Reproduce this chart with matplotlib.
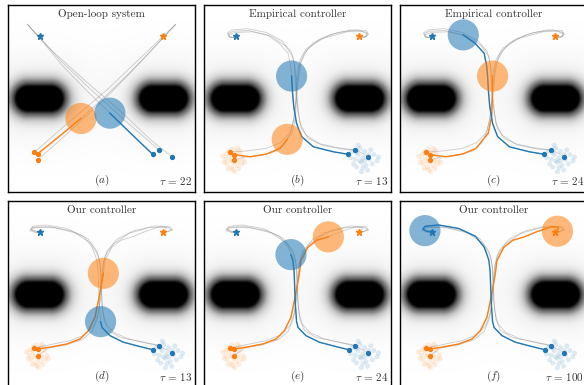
import numpy as np
import matplotlib.pyplot as plt
from matplotlib.patches import Circle

plt.rcParams['mathtext.fontset'] = 'cm'

BLUE = '#1f77b4'
ORANGE = '#ff7f0e'

# panels
titles = ['Open-loop system', 'Empirical controller', 'Empirical controller',
          'Our controller', 'Our controller', 'Our controller']
letters = ['a', 'b', 'c', 'd', 'e', 'f']
taus = [22, 13, 24, 13, 24, 100]
controllers = ['open', 'emp', 'emp', 'ours', 'ours', 'ours']

# obstacles (centres of the two dark blobs)
obstacle_x = [-2.0, 2.0]
obstacle_y = [0.0, 0.0]

# targets
target_blue = (-1.98, 2.0)
target_orange = (1.97, 2.0)

# agent positions (circles) in each panel
circle_blue = [(0.27, -0.47), (-0.19, 0.72), (-0.97, 2.04),
               (-0.03, -0.87), (-0.21, 1.28), (-2.20, 2.05)]
circle_orange = [(-0.66, -0.64), (-0.33, -1.31), (-0.03, 0.72),
                 (0.06, 0.68), (0.99, 1.85), (2.05, 2.03)]

# how many points of the highlighted path are coloured in each panel
cut_blue = [3, 8, 12, 6, 11, 19]
cut_orange = [3, 5, 9, 9, 13, 18]

# initial samples
cloud_orange = [(-2.30, -1.95), (-2.25, -2.10), (-2.18, -1.85), (-2.12, -2.20), (-2.05, -2.05),
                (-2.00, -1.90), (-1.95, -2.15), (-1.90, -2.00), (-1.85, -1.80), (-1.80, -2.10),
                (-2.20, -1.70), (-2.10, -1.62), (-1.98, -1.72), (-2.35, -2.05), (-2.08, -2.28),
                (-1.88, -2.25), (-1.75, -1.95), (-2.22, -2.25), (-2.15, -1.98), (-1.92, -1.60),
                (-2.40, -1.85), (-1.70, -2.05), (-2.02, -2.35), (-2.28, -1.78), (-1.85, -1.68)]
cloud_blue = [(1.75, -1.70), (1.85, -1.95), (1.95, -1.80), (2.05, -2.05), (2.10, -1.90),
              (2.20, -2.15), (2.15, -1.70), (2.00, -1.60), (1.90, -2.20), (2.30, -1.95),
              (2.45, -1.80), (2.55, -2.00), (1.80, -2.10), (2.25, -2.30), (2.05, -2.35),
              (2.35, -1.65), (1.70, -1.90), (2.00, -2.00), (2.40, -2.10), (1.95, -1.50),
              (2.15, -2.00), (2.60, -1.88), (1.88, -1.72), (2.28, -1.80), (2.10, -2.22)]

# open-loop trajectories
open_blue_0 = [(1.64, -1.79), (0.95, -1.13), (0.27, -0.47), (-0.50, 0.28),
               (-1.25, 1.05), (-1.95, 1.90), (-2.38, 2.38)]
open_blue_1 = [(1.85, -1.65), (0.80, -0.75), (-0.30, 0.25), (-1.30, 1.20),
               (-2.00, 1.98), (-2.38, 2.38)]
open_blue_2 = [(2.27, -1.87), (2.02, -1.68), (1.55, -1.30), (0.60, -0.40),
               (-0.50, 0.55), (-1.50, 1.45), (-2.00, 1.95), (-2.36, 2.36)]
open_orange_0 = [(-2.05, -1.78), (-1.35, -1.21), (-0.66, -0.64), (0.10, 0.05),
                 (0.90, 0.82), (1.70, 1.65), (2.38, 2.38)]
open_orange_1 = [(-2.15, -1.72), (-1.00, -0.72), (0.20, 0.30), (1.30, 1.35),
                 (2.00, 2.02), (2.38, 2.38)]
open_orange_2 = [(-2.05, -1.97), (-0.90, -0.95), (0.30, 0.18), (1.30, 1.22),
                 (1.95, 1.92), (2.36, 2.36)]

# empirical controller trajectories
emp_blue_0 = [(1.63, -1.79), (1.15, -1.71), (0.51, -1.55), (0.13, -1.22), (-0.03, -0.80),
              (-0.12, -0.26), (-0.16, 0.20), (-0.19, 0.72), (-0.22, 1.05), (-0.30, 1.45),
              (-0.59, 1.77), (-0.97, 2.04), (-1.56, 2.18), (-2.05, 2.16), (-2.22, 2.08),
              (-2.18, 1.97), (-2.05, 1.96), (-1.98, 1.98)]
emp_blue_1 = [(1.85, -1.65), (1.30, -1.58), (0.70, -1.45), (0.28, -1.18), (0.08, -0.80),
              (0.00, -0.30), (-0.05, 0.20), (-0.08, 0.70), (-0.10, 1.10), (-0.20, 1.50),
              (-0.50, 1.85), (-1.00, 2.12), (-1.60, 2.24), (-2.10, 2.20), (-2.25, 2.10),
              (-2.20, 1.98), (-2.05, 1.96), (-1.98, 1.98)]
emp_blue_2 = [(2.27, -1.87), (1.90, -1.66), (1.40, -1.62), (0.80, -1.50), (0.35, -1.28),
              (0.12, -0.95), (0.03, -0.45), (-0.02, 0.10), (-0.05, 0.65), (-0.08, 1.00),
              (-0.15, 1.35), (-0.40, 1.70), (-0.85, 2.00), (-1.45, 2.14), (-2.00, 2.12),
              (-2.20, 2.05), (-2.15, 1.96), (-1.98, 1.98)]
emp_orange_0 = [(-2.05, -1.80), (-1.52, -1.87), (-0.99, -1.78), (-0.56, -1.60), (-0.33, -1.31),
                (-0.17, -1.12), (-0.06, -0.58), (-0.04, -0.05), (-0.03, 0.72), (0.08, 1.24),
                (0.29, 1.61), (0.83, 1.93), (1.58, 2.14), (2.05, 2.16), (2.25, 2.07),
                (2.18, 1.97), (1.98, 1.98)]
emp_orange_1 = [(-2.15, -1.72), (-1.60, -1.68), (-1.00, -1.60), (-0.55, -1.42), (-0.25, -1.12),
                (-0.12, -0.70), (-0.06, -0.20), (0.00, 0.30), (0.05, 0.80), (0.12, 1.18),
                (0.30, 1.55), (0.70, 1.90), (1.30, 2.12), (1.90, 2.20), (2.22, 2.12),
                (2.22, 2.00), (2.05, 1.97), (1.98, 1.98)]
emp_orange_2 = [(-2.05, -1.97), (-1.70, -1.88), (-1.10, -1.82), (-0.65, -1.68), (-0.38, -1.42),
                (-0.20, -1.05), (-0.10, -0.50), (-0.05, 0.05), (0.00, 0.60), (0.06, 1.05),
                (0.20, 1.42), (0.50, 1.78), (1.05, 2.05), (1.70, 2.20), (2.20, 2.18),
                (2.28, 2.06), (2.15, 1.96), (1.98, 1.98)]

# our controller trajectories
ours_blue_0 = [(1.64, -1.77), (1.23, -1.67), (0.70, -1.53), (0.27, -1.32), (0.02, -1.06),
               (-0.03, -0.87), (-0.07, -0.30), (-0.09, 0.23), (-0.11, 0.76), (-0.15, 1.10),
               (-0.21, 1.28), (-0.30, 1.52), (-0.58, 1.87), (-1.12, 2.12), (-1.76, 2.23),
               (-2.19, 2.19), (-2.27, 2.10), (-2.13, 2.03), (-1.97, 2.02)]
ours_blue_1 = [(1.85, -1.65), (1.40, -1.55), (0.85, -1.42), (0.40, -1.22), (0.15, -0.95),
               (0.05, -0.60), (0.00, -0.10), (-0.02, 0.50), (-0.05, 1.00), (-0.15, 1.40),
               (-0.45, 1.80), (-1.00, 2.05), (-1.70, 2.18), (-2.22, 2.15), (-2.30, 2.05),
               (-2.12, 1.99), (-1.97, 2.00)]
ours_blue_2 = [(2.27, -1.87), (1.80, -1.62), (1.20, -1.50), (0.60, -1.38), (0.22, -1.15),
               (0.08, -0.80), (0.02, -0.30), (0.00, 0.30), (-0.03, 0.85), (-0.10, 1.25),
               (-0.35, 1.65), (-0.85, 1.98), (-1.50, 2.14), (-2.10, 2.16), (-2.26, 2.08),
               (-2.10, 2.00), (-1.97, 2.01)]
ours_orange_0 = [(-2.05, -1.75), (-1.65, -1.69), (-1.12, -1.59), (-0.69, -1.43), (-0.42, -1.16),
                 (-0.21, -0.73), (-0.10, -0.20), (0.00, 0.34), (0.06, 0.68), (0.11, 1.09),
                 (0.33, 1.51), (0.62, 1.74), (0.99, 1.85), (1.40, 2.02), (1.88, 2.18),
                 (2.09, 2.15), (2.05, 2.06), (1.96, 2.02)]
ours_orange_1 = [(-2.15, -1.72), (-1.60, -1.60), (-1.00, -1.48), (-0.55, -1.30), (-0.25, -1.00),
                 (-0.10, -0.60), (-0.03, -0.10), (0.02, 0.50), (0.06, 1.00), (0.18, 1.40),
                 (0.50, 1.78), (1.05, 2.05), (1.70, 2.20), (2.20, 2.17), (2.28, 2.07),
                 (2.10, 2.01), (1.96, 2.02)]
ours_orange_2 = [(-2.05, -1.97), (-1.70, -1.72), (-1.15, -1.62), (-0.62, -1.45), (-0.30, -1.18),
                 (-0.14, -0.80), (-0.06, -0.30), (-0.02, 0.30), (0.03, 0.85), (0.12, 1.25),
                 (0.38, 1.62), (0.90, 1.97), (1.55, 2.15), (2.12, 2.16), (2.25, 2.08),
                 (2.10, 2.01), (1.96, 2.02)]

blue_paths = {'open': [open_blue_0, open_blue_1, open_blue_2],
              'emp': [emp_blue_0, emp_blue_1, emp_blue_2],
              'ours': [ours_blue_0, ours_blue_1, ours_blue_2]}
orange_paths = {'open': [open_orange_0, open_orange_1, open_orange_2],
                'emp': [emp_orange_0, emp_orange_1, emp_orange_2],
                'ours': [ours_orange_0, ours_orange_1, ours_orange_2]}

# background cost map
g = np.linspace(-3, 3, 300)
X, Y = np.meshgrid(g, g)
field = np.zeros_like(X)
for cx, cy in zip(obstacle_x, obstacle_y):
    dx = np.maximum(np.abs(X - cx) - 0.36, 0)
    r2 = dx ** 2 + (Y - cy) ** 2
    field += np.minimum(1.5 * np.exp(-r2 / (2 * 0.37 ** 2)), 1) + 0.13 * np.exp(-r2 / (2 * 0.95 ** 2))
field = np.clip(field, 0, 1)

fig = plt.figure(figsize=(5.84, 3.85), dpi=100)
W, H = 584, 385
lefts = [8, 204, 400]
tops = [5, 201]
size = 187

for i in range(6):
    col, row = i % 3, i // 3
    ax = fig.add_axes([lefts[col] / W, 1 - (tops[row] + size) / H, size / W, size / H])
    ax.imshow(field, extent=[-3, 3, -3, 3], origin='lower', cmap='Greys',
              vmin=0, vmax=1, interpolation='bilinear', zorder=0)
    ctrl = controllers[i]

    if ctrl != 'open':
        cb = np.array(cloud_blue)
        co = np.array(cloud_orange)
        ax.scatter(co[:, 0], co[:, 1], s=13, color=ORANGE, alpha=0.14, edgecolors='none', zorder=1)
        ax.scatter(cb[:, 0], cb[:, 1], s=13, color=BLUE, alpha=0.14, edgecolors='none', zorder=1)

    # all sample trajectories in gray
    for p in blue_paths[ctrl] + orange_paths[ctrl]:
        p = np.array(p)
        ax.plot(p[:, 0], p[:, 1], color='gray', lw=0.6, alpha=0.4, zorder=2)

    # highlighted trajectories up to the current time
    pb = np.array(blue_paths[ctrl][0][:cut_blue[i]])
    po = np.array(orange_paths[ctrl][0][:cut_orange[i]])
    ax.plot(po[:, 0], po[:, 1], color=ORANGE, lw=1.0, zorder=3)
    ax.plot(pb[:, 0], pb[:, 1], color=BLUE, lw=1.0, zorder=3)

    # start points
    for p in blue_paths[ctrl]:
        ax.plot(p[0][0], p[0][1], 'o', color=BLUE, ms=2.8, zorder=4)
    for p in orange_paths[ctrl]:
        ax.plot(p[0][0], p[0][1], 'o', color=ORANGE, ms=2.8, zorder=4)

    # targets
    ax.plot(*target_blue, '*', color=BLUE, ms=5, zorder=4)
    ax.plot(*target_orange, '*', color=ORANGE, ms=5, zorder=4)

    # agents
    ax.add_patch(Circle(circle_orange[i], 0.5, color=ORANGE, alpha=0.55, lw=0, zorder=5))
    ax.add_patch(Circle(circle_blue[i], 0.5, color=BLUE, alpha=0.55, lw=0, zorder=5))

    ax.text(0.5, 0.952, titles[i], transform=ax.transAxes, ha='center', va='center',
            fontsize=8, family='cmr10', color='#333333')
    ax.text(0.5, 0.06, r'$(%s)$' % letters[i], transform=ax.transAxes, ha='center',
            va='center', fontsize=8, color='#333333')
    ax.text(0.985, 0.06, r'$\tau\,=\,%d$' % taus[i], transform=ax.transAxes, ha='right',
            va='center', fontsize=8, color='#333333')

    ax.set_xlim(-3, 3)
    ax.set_ylim(-3, 3)
    ax.set_xticks([])
    ax.set_yticks([])
    for s in ax.spines.values():
        s.set_linewidth(1.0)

fig.savefig('out.png', dpi=100)
